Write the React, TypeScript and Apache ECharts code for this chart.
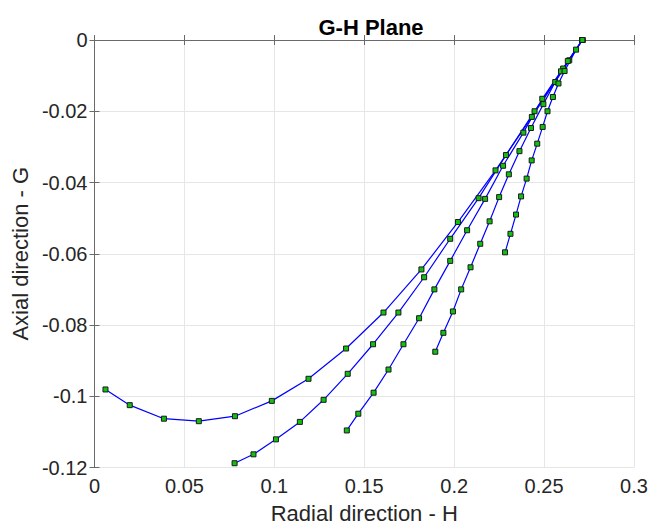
import React, { useEffect, useRef } from "react";
import * as echarts from "echarts";

const xTicks = [0, 0.05, 0.1, 0.15, 0.2, 0.25, 0.3];
const yTicks = [-0.12, -0.1, -0.08, -0.06, -0.04, -0.02, 0];

const series1: [number, number][] = [
  [0.0061, -0.0981], [0.0196, -0.1025], [0.0386, -0.1063], [0.058, -0.107],
  [0.0781, -0.1056], [0.0986, -0.1013], [0.119, -0.0951], [0.1399, -0.0866],
  [0.1607, -0.0765], [0.1818, -0.0644], [0.2021, -0.0511], [0.223, -0.0366],
  [0.2432, -0.0216], [0.264, -0.0057], [0.2713, 0],
];
const series2: [number, number][] = [
  [0.0779, -0.1188], [0.0884, -0.1163], [0.1009, -0.1121], [0.1142, -0.1072],
  [0.1274, -0.101], [0.1408, -0.0937], [0.1549, -0.0854], [0.169, -0.0765],
  [0.1833, -0.0666], [0.1978, -0.0558], [0.2136, -0.0444], [0.2288, -0.0323],
  [0.2447, -0.02], [0.2606, -0.008], [0.2713, 0],
];
const series3: [number, number][] = [
  [0.1403, -0.1096], [0.1467, -0.1049], [0.1552, -0.099], [0.1635, -0.0925],
  [0.1718, -0.0854], [0.1805, -0.0781], [0.189, -0.07], [0.1978, -0.062],
  [0.2072, -0.0534], [0.2172, -0.0446], [0.2272, -0.0353], [0.2385, -0.026],
  [0.249, -0.0165], [0.2594, -0.0088], [0.2713, 0],
];
const series4: [number, number][] = [
  [0.1895, -0.0875], [0.194, -0.0822], [0.1993, -0.0762], [0.2039, -0.07],
  [0.2091, -0.0638], [0.2145, -0.0572], [0.2197, -0.0509], [0.225, -0.0441],
  [0.2304, -0.0377], [0.2363, -0.0312], [0.2427, -0.0247], [0.2496, -0.018],
  [0.2562, -0.0118], [0.2632, -0.0059], [0.2713, 0],
];
const series5: [number, number][] = [
  [0.2283, -0.0596], [0.2313, -0.0544], [0.2344, -0.049], [0.2372, -0.0439],
  [0.2403, -0.0389], [0.2431, -0.0338], [0.2462, -0.0291], [0.2492, -0.0244],
  [0.2519, -0.02], [0.2549, -0.016], [0.258, -0.0122], [0.2614, -0.0087],
  [0.2678, -0.0027], [0.2713, 0],
];

const allSeries = [series1, series2, series3, series4, series5];

const FONT = "Liberation Sans, Arial, Helvetica, sans-serif";
const fmt = (v: number) => String(+v.toFixed(4));

export default function App() {
  const ref = useRef<HTMLDivElement>(null);
  useEffect(() => {
    if (!ref.current) return;
    const chart = echarts.init(ref.current, null, { renderer: "svg" });
    const axisLine = { show: true, lineStyle: { color: "#6a6a6a", width: 1 } };
    const axisTick = { show: true, inside: true, length: 5, lineStyle: { color: "#6a6a6a" } };
    const splitLine = { show: true, lineStyle: { color: "#e6e6e6", width: 1 } };
    chart.setOption({
      animation: false,
      backgroundColor: "#fff",
      title: {
        text: "G-H Plane",
        left: 366,
        top: 11,
        textAlign: "center",
        textStyle: { fontFamily: FONT, fontSize: 22, fontWeight: "bold", color: "#000" },
      },
      grid: { left: 94.5, right: 24, top: 40, bottom: 62.5, containLabel: false },
      xAxis: [
        {
          type: "value",
          min: xTicks[0],
          max: xTicks[xTicks.length - 1],
          interval: 0.05,
          position: "bottom",
          name: "Radial direction - H",
          nameLocation: "middle",
          nameGap: 35,
          nameTextStyle: { fontFamily: FONT, fontSize: 22, color: "#262626" },
          axisLine,
          axisTick,
          splitLine,
          axisLabel: { fontFamily: FONT, fontSize: 20, color: "#262626", margin: 8, formatter: fmt },
        },
        {
          type: "value",
          min: xTicks[0],
          max: xTicks[xTicks.length - 1],
          interval: 0.05,
          position: "top",
          axisLine,
          axisTick,
          splitLine: { show: false },
          axisLabel: { show: false },
        },
      ],
      yAxis: [
        {
          type: "value",
          min: yTicks[0],
          max: yTicks[yTicks.length - 1],
          interval: 0.02,
          position: "left",
          name: "Axial direction - G",
          nameLocation: "middle",
          nameGap: 62,
          nameTextStyle: { fontFamily: FONT, fontSize: 22, color: "#262626" },
          axisLine,
          axisTick,
          splitLine,
          axisLabel: { fontFamily: FONT, fontSize: 20, color: "#262626", margin: 7, formatter: fmt },
        },
        {
          type: "value",
          min: yTicks[0],
          max: yTicks[yTicks.length - 1],
          interval: 0.02,
          position: "right",
          axisLine,
          axisTick,
          splitLine: { show: false },
          axisLabel: { show: false },
        },
      ],
      series: allSeries.map((d) => ({
        type: "line",
        data: d,
        xAxisIndex: 0,
        yAxisIndex: 0,
        symbol: "rect",
        symbolSize: 5,
        showAllSymbol: true,
        lineStyle: { color: "#0000ff", width: 1.2 },
        itemStyle: { color: "#12c012", borderColor: "#1a1a1a", borderWidth: 1 },
        z: 3,
      })),
    });
    return () => chart.dispose();
  }, []);
  return (
    <div
      ref={ref}
      style={{ position: "fixed", left: 0, top: 0, width: 658, height: 530, background: "#fff" }}
    />
  );
}
